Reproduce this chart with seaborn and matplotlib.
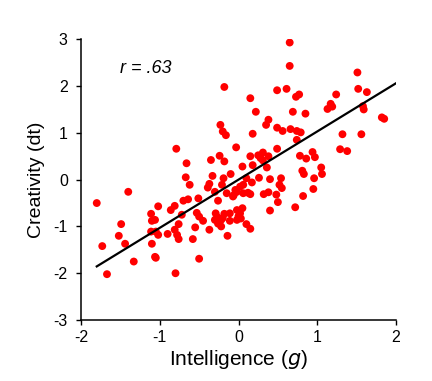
import numpy as np
import pandas as pd
import matplotlib
matplotlib.use("Agg")
import matplotlib.pyplot as plt
import seaborn as sns

# Values
intelligence = [
    -0.18, -0.23, -0.20, -0.16, -0.79, -0.03, -0.66, -0.35, -0.24, -0.18,
    -0.67, -0.33, -0.19, -0.10, 0.65, 0.65, 1.51, 0.49, 0.61, 0.77,
    0.73, 1.52, 1.63, 1.24, 0.15, 0.22, 0.69, 0.85, 1.17, 1.13,
    1.19, 1.58, 1.59, 1.82, 1.85, 0.38, 0.35, 0.49, 0.56, 0.66,
    0.74, 0.79, 0.18, 0.74, 1.32, 1.56, 0.49, 1.29, 1.38, 0.15,
    0.25, 0.31, 0.28, 0.38, 0.31, 0.78, 0.86, 0.94, 0.97, 0.05,
    0.18, 0.36, 1.05, 1.06, 0.81, 0.83, 0.10, 0.26, 0.40, 0.54,
    0.96, -0.62, -0.37, -0.39, -0.21, -1.40, -1.80, -1.02, -1.11, -0.86,
    -0.81, -0.70, -0.64, -0.51, -0.53, -0.50, -0.45, -0.72, -0.76, -0.55,
    -0.37, -0.30, -0.26, -0.15, -0.07, -0.02, -0.29, -0.27, -0.30, -0.26,
    -0.22, -0.20, -0.18, -0.22, -0.02, -0.02, -1.49, -1.52, -1.44, -1.10,
    -1.06, -1.11, -1.05, -1.02, -0.90, -0.81, -0.78, -0.76, -0.58, -1.10,
    -1.06, -1.05, -1.73, -1.33, -1.67, -0.80, -0.50, -0.14, 0.06, 0.02,
    0.17, 0.52, 0.55, -0.04, -0.06, 0.06, 0.12, 0.15, 0.32, 0.38,
    0.48, 0.50, 0.40, 0.82, 0.95, 0.72, 0.05, 0.02, 0.00, -0.11,
    -0.11, 0.03, 0.10, 0.15,
]
creativity = [
    1.98, 1.17, 1.03, 0.95, 0.66, 0.69, 0.35, 0.42, 0.51, 0.39,
    0.05, 0.08, 0.03, 0.12, 2.93, 2.43, 2.29, 1.91, 1.94, 1.82,
    1.77, 1.94, 1.87, 1.82, 1.74, 1.45, 1.45, 1.41, 1.62, 1.51,
    1.56, 1.57, 1.50, 1.33, 1.30, 1.28, 1.17, 1.11, 1.04, 1.08,
    1.04, 1.01, 0.98, 0.85, 0.97, 0.97, 0.66, 0.65, 0.61, 0.50,
    0.52, 0.58, 0.46, 0.50, 0.41, 0.51, 0.45, 0.59, 0.48, 0.28,
    0.31, 0.26, 0.26, 0.12, 0.19, 0.12, 0.03, 0.04, 0.01, 0.03,
    0.03, -0.11, -0.09, -0.17, -0.11, -0.26, -0.50, -0.57, -0.73, -0.65,
    -0.56, -0.45, -0.42, -0.40, -0.71, -0.79, -0.88, -0.75, -0.95, -1.02,
    -1.07, -0.26, -0.45, -0.29, -0.36, -0.26, -0.72, -0.80, -0.86, -0.94,
    -1.00, -0.82, -0.73, -0.86, -0.65, -0.86, -0.95, -1.20, -1.37, -0.88,
    -0.86, -1.11, -1.11, -1.18, -1.16, -1.07, -1.18, -1.27, -1.27, -1.37,
    -1.65, -1.67, -1.42, -1.75, -2.02, -2.00, -1.69, -1.20, -0.11, -0.15,
    -0.06, -0.11, -0.18, -0.22, -0.33, -0.29, -0.28, -0.31, -0.31, -0.27,
    -0.32, -0.48, -0.66, -0.35, -0.20, -0.59, -0.61, -0.72, -0.78, -0.72,
    -0.88, -0.83, -0.95, -1.05,
]
corr_label = "r = .63"
# fitted line as drawn in the reference (standardised scores)
fit_slope = 1.03
fit_intercept = 0.0

df = pd.DataFrame({"g": intelligence, "dt": creativity})

plt.rcParams["font.family"] = ["Liberation Sans", "DejaVu Sans"]
plt.rcParams["axes.unicode_minus"] = False

fig = plt.figure(figsize=(4.32, 3.81), dpi=100)
ax = fig.add_axes([0.1875, 0.160, 0.7292, 0.737])

sns.scatterplot(data=df, x="g", y="dt", color="#ff0000", edgecolor="none",
                s=32, ax=ax, zorder=2)

# regression line from the leftmost point to the right edge
xs = np.array([df["g"].min(), 2.0])
sns.lineplot(x=xs, y=fit_intercept + fit_slope * xs, color="black",
             lw=1.6, ax=ax, zorder=3)

ax.set_xlim(-2, 2)
ax.set_ylim(-3, 3)
ax.set_xticks([-2, -1, 0, 1, 2])
ax.set_yticks([-3, -2, -1, 0, 1, 2, 3])
ax.tick_params(labelsize=11.5, length=3.5, width=1, direction="out")
ax.tick_params(axis="y", pad=6)
ax.tick_params(axis="x", pad=4)
for side in ["top", "right"]:
    ax.spines[side].set_visible(False)
for side in ["left", "bottom"]:
    ax.spines[side].set_linewidth(1.1)

ax.set_xlabel("Intelligence ($\\mathit{g}$)", fontsize=15, labelpad=2)
ax.set_ylabel("Creativity (dt)", fontsize=14, labelpad=6)
ax.text(-1.5, 2.37, corr_label, fontsize=13, style="italic", va="center")

fig.savefig("out.png", dpi=100)
